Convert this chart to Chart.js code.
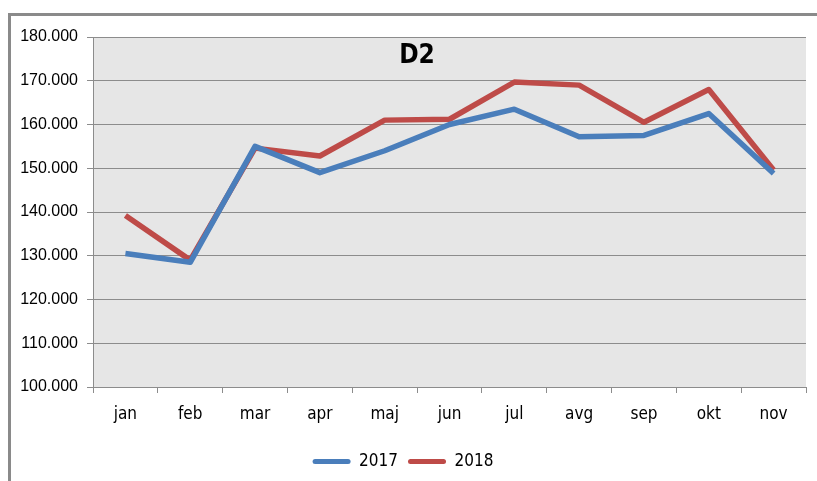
<!DOCTYPE html>
<html>
<head>
<meta charset="utf-8">
<script src="https://cdn.jsdelivr.net/npm/chart.js@4"></script>
<style>
  body { margin: 0; background: #fff; }
  #frame {
    position: absolute; left: 8px; top: 13px; width: 900px; height: 600px;
    border-left: 3px solid #8a8a8a; border-top: 3px solid #8a8a8a;
  }
  #wrap { position: absolute; left: 0; top: 0; width: 817px; height: 481px; }
</style>
</head>
<body>
<div id="frame"></div>
<div id="wrap"><canvas id="myChart" width="817" height="481"></canvas></div>
<script>
const months = ["jan", "feb", "mar", "apr", "maj", "jun", "jul", "avg", "sep", "okt", "nov"];
const values2017 = [130.5, 128.5, 155, 149, 154, 160, 163.5, 157.2, 157.5, 162.5, 148.8];
const values2018 = [139.2, 129, 154.6, 152.8, 161, 161.2, 169.7, 169, 160.5, 168, 149.6];
const yTicks = [100, 110, 120, 130, 140, 150, 160, 170, 180];

const narrow = "'Liberation Sans Narrow', 'DejaVu Sans Condensed', sans-serif";
const gridColor = "#8c8c8c";

const plotBg = {
  id: "plotBg",
  beforeDraw(chart) {
    const { ctx, chartArea: a } = chart;
    ctx.save();
    ctx.fillStyle = "#e6e6e6";
    ctx.fillRect(a.left, a.top, a.right - a.left, a.bottom - a.top);
    ctx.restore();
  },
  afterDatasetsDraw(chart) {
    const { ctx } = chart;
    ctx.save();
    ctx.fillStyle = "#000";
    ctx.font = "bold 26px " + narrow;
    ctx.textAlign = "center";
    ctx.textBaseline = "middle";
    ctx.fillText("D2", 417, 56);
    ctx.restore();
  },
};

function createChart(ctx) {
  new Chart(ctx, {
    type: "line",
    data: {
      labels: months,
      datasets: [
        {
          label: "2017",
          data: values2017,
          borderColor: "#4a7ebb",
          backgroundColor: "#4a7ebb",
          borderWidth: 5.5,
        },
        {
          label: "2018",
          data: values2018,
          borderColor: "#be4b48",
          backgroundColor: "#be4b48",
          borderWidth: 5.5,
        },
      ],
    },
    options: {
      responsive: false,
      animation: false,
      layout: { padding: { left: 0, top: 37, right: 11, bottom: 1 } },
      elements: {
        line: { tension: 0, borderJoinStyle: "round", borderCapStyle: "butt" },
        point: { radius: 0 },
      },
      plugins: {
        tooltip: { enabled: false },
        legend: {
          position: "bottom",
          labels: {
            color: "#000",
            font: { family: narrow, size: 17 },
            boxWidth: 38,
            boxHeight: 5,
            useBorderRadius: true,
            borderRadius: 2.5,
            padding: 10,
            generateLabels: (chart) =>
              Chart.defaults.plugins.legend.labels
                .generateLabels(chart)
                .map((l) => ({ ...l, lineWidth: 0 })),
          },
        },
      },
      scales: {
        x: {
          offset: true,
          afterFit(s) { s.height = 56; },
          grid: {
            offset: true,
            drawOnChartArea: false,
            drawTicks: true,
            tickLength: 6,
            color: gridColor,
          },
          border: { color: gridColor },
          ticks: { color: "#000", padding: 11, font: { family: narrow, size: 17 } },
        },
        y: {
          min: 100,
          max: 180,
          afterFit(s) { s.width = 93; },
          afterBuildTicks(s) { s.ticks = yTicks.map((v) => ({ value: v })); },
          grid: { color: gridColor, tickLength: 6 },
          border: { color: gridColor },
          ticks: {
            color: "#000",
            padding: 9,
            font: { family: "'Liberation Sans', sans-serif", size: 16 },
            callback: (v) => v.toFixed(3),
          },
        },
      },
    },
    plugins: [plotBg],
  });
}

createChart(document.getElementById("myChart").getContext("2d"));
</script>
</body>
</html>
